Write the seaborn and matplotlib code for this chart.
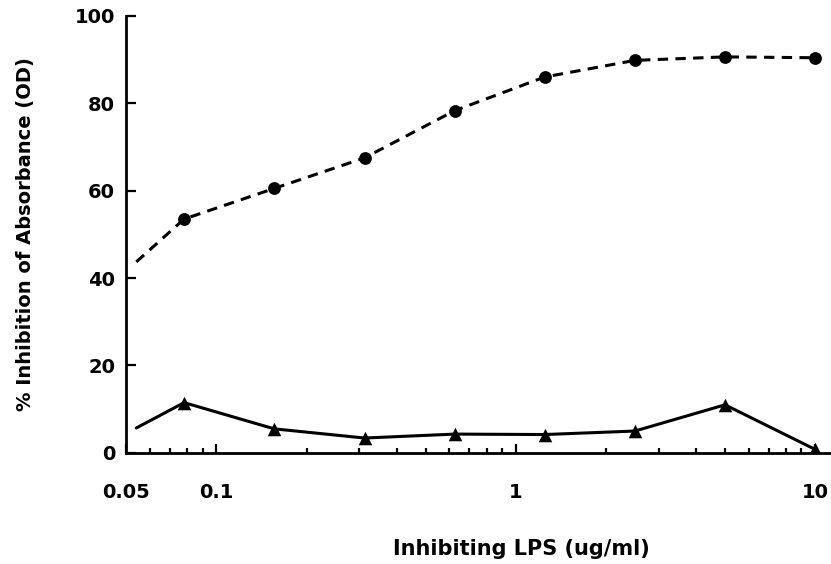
import numpy as np
import pandas as pd
import matplotlib
matplotlib.use("Agg")
import matplotlib.pyplot as plt
import seaborn as sns
from matplotlib.ticker import LogLocator, NullFormatter

# Data (two-fold dilutions of LPS)
conc = [0.078, 0.156, 0.3125, 0.625, 1.25, 2.5, 5, 10]
inhib_circle = [53.5, 60.5, 67.5, 78.3, 86.0, 89.8, 90.6, 90.4]
inhib_triangle = [11.5, 5.5, 3.4, 4.3, 4.2, 5.0, 11.0, 0.8]

# both curves start a little right of the y axis, without a marker
line_start_x = 0.054
circle_start_y = 43.7
triangle_start_y = 5.7

x_ticks = [0.05, 0.1, 1, 10]
x_tick_labels = ["0.05", "0.1", "1", "10"]
y_ticks = [0, 20, 40, 60, 80, 100]

sns.set_style("ticks")
plt.rcParams['font.family'] = ['DejaVu Sans']
plt.rcParams['font.weight'] = 'bold'
plt.rcParams['text.color'] = 'black'
plt.rcParams['axes.labelcolor'] = 'black'
plt.rcParams['xtick.color'] = 'black'
plt.rcParams['ytick.color'] = 'black'

circle_df = pd.DataFrame({"conc": [line_start_x] + conc,
                          "inhib": [circle_start_y] + inhib_circle})
triangle_df = pd.DataFrame({"conc": [line_start_x] + conc,
                            "inhib": [triangle_start_y] + inhib_triangle})

fig = plt.figure(figsize=(8.31, 5.64), dpi=100)
ax = fig.add_axes([0.152, 0.197, 0.848, 0.775])

# lines
sns.lineplot(data=circle_df, x="conc", y="inhib", ax=ax, color="black",
             linewidth=2.2, linestyle=(0, (3.4, 2.4)), estimator=None, sort=False)
sns.lineplot(data=triangle_df, x="conc", y="inhib", ax=ax, color="black",
             linewidth=2.2, estimator=None, sort=False)

# markers only at the measured points
sns.scatterplot(x=conc, y=inhib_circle, ax=ax, marker="o", s=85,
                color="black", edgecolor="black", linewidth=0, zorder=3)
sns.scatterplot(x=conc, y=inhib_triangle, ax=ax, marker="^", s=95,
                color="black", edgecolor="black", linewidth=0, zorder=3)

ax.set_xscale("log")
ax.set_xlim(0.05, 11.3)
ax.set_ylim(0, 100)

ax.set_xticks(x_ticks)
ax.set_xticklabels(x_tick_labels)
ax.xaxis.set_minor_locator(LogLocator(base=10, subs=np.arange(2, 10)))
ax.xaxis.set_minor_formatter(NullFormatter())
ax.set_yticks(y_ticks)

ax.tick_params(axis="x", which="major", direction="in", length=6.5, width=1.6,
               pad=22, labelsize=14, colors="black")
ax.tick_params(axis="x", which="minor", direction="in", length=3.5, width=1.6,
               colors="black")
ax.tick_params(axis="y", which="major", direction="in", length=7, width=1.6,
               pad=8, labelsize=14, colors="black")
for lab in ax.get_xticklabels() + ax.get_yticklabels():
    lab.set_fontweight("bold")

for side in ["top", "right"]:
    ax.spines[side].set_visible(False)
for side in ["left", "bottom"]:
    ax.spines[side].set_linewidth(2.0)
    ax.spines[side].set_color("black")

ax.set_xlabel("Inhibiting LPS (ug/ml)", fontsize=15, fontweight="bold", color="black")
ax.set_ylabel("% Inhibition of Absorbance (OD)", fontsize=14, fontweight="bold",
              color="black")
ax.xaxis.set_label_coords(0.56, -0.196)
ax.yaxis.set_label_coords(-0.13, 0.5)

fig.savefig("out.png", dpi=100, facecolor="white")
